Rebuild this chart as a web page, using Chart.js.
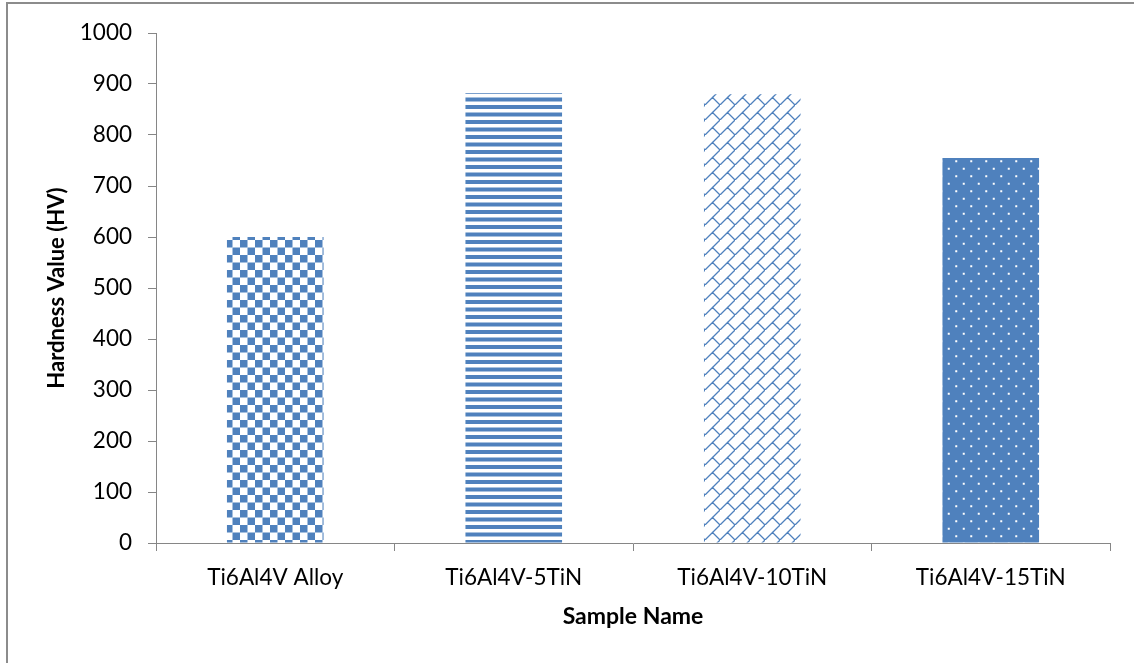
<!DOCTYPE html>
<html>
<head>
<meta charset="utf-8">
<script src="https://cdn.jsdelivr.net/npm/chart.js@4"></script>
<style>
  html, body { margin: 0; padding: 0; background: #ffffff; }
  #wrap { position: relative; width: 1134px; height: 663px; }
</style>
</head>
<body>
<div id="wrap"><canvas id="c" width="1134" height="663"></canvas></div>
<script>
// Vickers hardness of the alloy and the TiN-reinforced composites
const sampleNames = ['Ti6Al4V Alloy', 'Ti6Al4V-5TiN', 'Ti6Al4V-10TiN', 'Ti6Al4V-15TiN'];
const hardnessValues = [600, 882, 880, 755];
const yTickValues = [0, 100, 200, 300, 400, 500, 600, 700, 800, 900, 1000];

const BLUE = '#4f81bd';
const AXIS_GREY = '#868686';
const FONT = 'Lato, "Open Sans", sans-serif';

// Fill patterns, one per bar
function makeTile(draw) {
  const t = document.createElement('canvas');
  t.width = 15; t.height = 15;
  const g = t.getContext('2d');
  draw(g);
  return document.getElementById('c').getContext('2d').createPattern(t, 'repeat');
}

const checker = makeTile(g => {
  g.fillStyle = '#ffffff'; g.fillRect(0, 0, 15, 15);
  g.fillStyle = BLUE;
  g.fillRect(0, 0, 7.5, 7.5);
  g.fillRect(7.5, 7.5, 7.5, 7.5);
});

const stripes = makeTile(g => {
  g.fillStyle = '#ffffff'; g.fillRect(0, 0, 15, 15);
  g.fillStyle = BLUE;
  g.fillRect(0, 0, 15, 4);
  g.fillRect(0, 7.5, 15, 4);
});

const diagonalBrick = makeTile(g => {
  g.fillStyle = '#ffffff'; g.fillRect(0, 0, 15, 15);
  g.strokeStyle = BLUE;
  g.lineWidth = 1.3;
  g.lineCap = 'square';
  g.beginPath();
  g.moveTo(-2, 17); g.lineTo(17, -2);      // long "/" course lines
  g.moveTo(-2, 32); g.lineTo(32, -2);
  g.moveTo(7.5, 7.5); g.lineTo(15, 15);    // short joints between courses
  g.moveTo(-7.5, 7.5); g.lineTo(0, 15);
  g.moveTo(7.5, -7.5); g.lineTo(15, 0);
  g.stroke();
});

const dots = makeTile(g => {
  g.fillStyle = BLUE; g.fillRect(0, 0, 15, 15);
  g.fillStyle = '#ffffff';
  g.fillRect(2.75, 2.75, 2, 2);
  g.fillRect(10.25, 10.25, 2, 2);
});

// Outer frame of the chart area
const framePlugin = {
  id: 'frame',
  beforeDraw(chart) {
    const ctx = chart.ctx;
    ctx.save();
    ctx.fillStyle = '#ffffff';
    ctx.fillRect(0, 0, chart.width, chart.height);
    ctx.strokeStyle = '#8c8c8c';
    ctx.lineWidth = 2;
    ctx.beginPath();
    ctx.moveTo(7, chart.height);
    ctx.lineTo(7, 3);
    ctx.lineTo(chart.width, 3);
    ctx.stroke();
    ctx.restore();
  }
};

new Chart(document.getElementById('c'), {
  type: 'bar',
  data: {
    labels: sampleNames,
    datasets: [{
      data: hardnessValues,
      backgroundColor: [checker, stripes, diagonalBrick, dots],
      borderWidth: 0,
      categoryPercentage: 1,
      barPercentage: 0.405
    }]
  },
  options: {
    responsive: false,
    animation: false,
    layout: { padding: { left: 0, top: 33, right: 24, bottom: 0 } },
    plugins: { legend: { display: false }, tooltip: { enabled: false } },
    scales: {
      x: {
        grid: { drawOnChartArea: false, drawTicks: true, tickLength: 8, color: AXIS_GREY, offset: true },
        border: { display: true, color: AXIS_GREY, width: 1 },
        ticks: { color: '#000000', font: { family: FONT, size: 22.5 }, padding: 13 },
        title: {
          display: true, text: 'Sample Name', color: '#000000',
          font: { family: FONT, size: 23, weight: 'bold' },
          padding: { top: 0, bottom: 33 }
        },
        afterFit(s) { s.height = 120; }
      },
      y: {
        min: 0, max: 1000,
        afterBuildTicks(s) { s.ticks = yTickValues.map(v => ({ value: v })); },
        grid: { drawOnChartArea: false, drawTicks: true, tickLength: 8, color: AXIS_GREY },
        border: { display: true, color: AXIS_GREY, width: 1 },
        ticks: {
          color: '#000000', font: { family: FONT, size: 22.5 }, padding: 16,
          callback: v => String(v)
        },
        title: {
          display: true, text: 'Hardness Value (HV)', color: '#000000',
          font: { family: FONT, size: 22, weight: 'bold' },
          padding: { top: 44, bottom: 0 }
        },
        afterFit(s) { s.width = 156; }
      }
    }
  },
  plugins: [framePlugin]
});
</script>
</body>
</html>
